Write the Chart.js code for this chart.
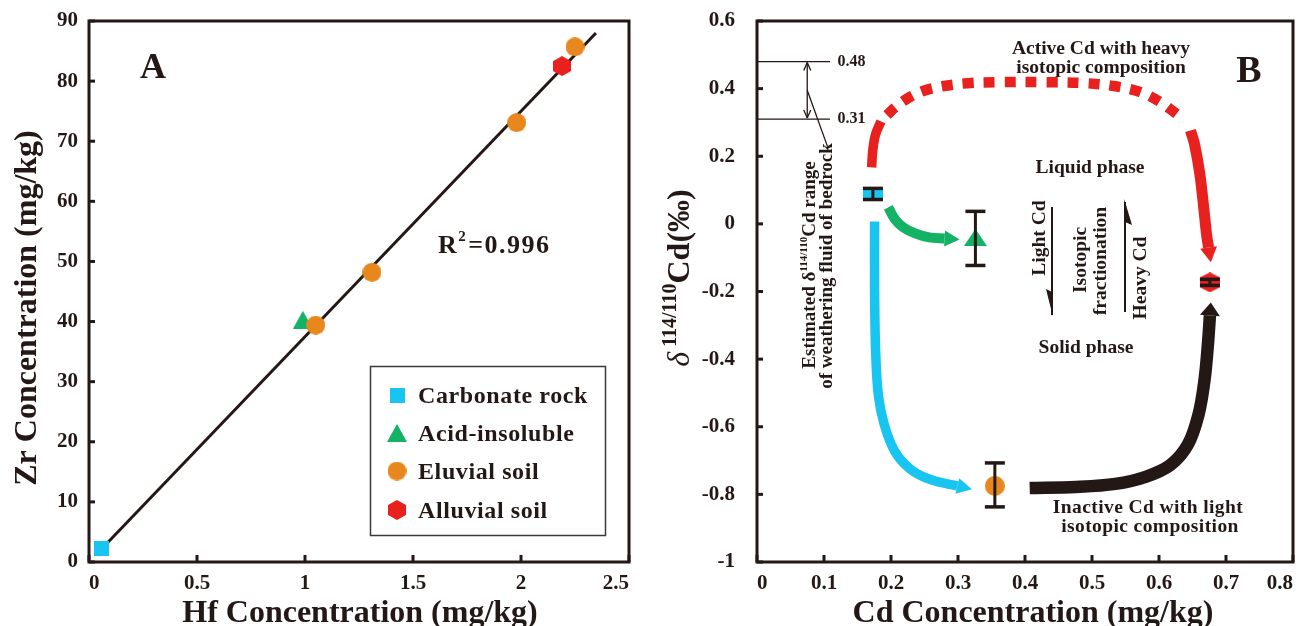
<!DOCTYPE html>
<html>
<head>
<meta charset="utf-8">
<script src="https://cdn.jsdelivr.net/npm/chart.js@4.4.1/dist/chart.umd.min.js"></script>
<style>
  body { margin: 0; background: #fff; }
  canvas { position: absolute; top: 0; }
  #panelA { left: 0; }
  #panelB { left: 650px; }
</style>
</head>
<body>
<canvas id="panelA" width="650" height="626"></canvas>
<canvas id="panelB" width="654" height="626"></canvas>
<script>
// ---- Panel A: Zr vs Hf ----
const hfCarbonate = [0.06];
const zrCarbonate = [2.2];
const hfAcid = [0.99];
const zrAcid = [40.3];
const hfEluvial = [1.05, 1.31, 1.98, 2.25];
const zrEluvial = [39.4, 48.2, 73.1, 85.7];
const hfAlluvial = [2.19];
const zrAlluvial = [82.5];
const fitHf = [0.088, 2.347];
const fitZr = [3.3, 88.0];
const hfTicks = [0, 0.5, 1, 1.5, 2, 2.5];
const hfTickLabels = ['0', '0.5', '1', '1.5', '2', '2.5'];
const zrTicks = [0, 10, 20, 30, 40, 50, 60, 70, 80, 90];

// ---- Panel B: delta114/110Cd vs Cd ----
const cdConc = [0.173, 0.326, 0.355, 0.676];
const cdDelta = [0.088, -0.040, -0.775, -0.173];
const cdDeltaLow = [0.072, -0.123, -0.837, -0.182];
const cdDeltaHigh = [0.105, 0.037, -0.707, -0.164];
const bedrockRange = [0.31, 0.48];
const cdTicks = [0, 0.1, 0.2, 0.3, 0.4, 0.5, 0.6, 0.7, 0.8];
const cdTickLabels = ['0', '0.1', '0.2', '0.3', '0.4', '0.5', '0.6', '0.7', '0.8'];
const deltaTicks = [-1, -0.8, -0.6, -0.4, -0.2, 0, 0.2, 0.4, 0.6];
const deltaTickLabels = ['-1', '-0.8', '-0.6', '-0.4', '-0.2', '0', '0.2', '0.4', '0.6'];

// flow arrows (Cd concentration, delta) along each curve
const redPathStart = [[0.171, 0.167], [0.173, 0.221], [0.177, 0.265], [0.185, 0.303]];
const redPathDashed = [[0.194, 0.322], [0.206, 0.344], [0.223, 0.369], [0.248, 0.393], [0.277, 0.407],
  [0.314, 0.416], [0.358, 0.419], [0.432, 0.419], [0.491, 0.416], [0.535, 0.407], [0.572, 0.390],
  [0.602, 0.360], [0.625, 0.327], [0.636, 0.310]];
const redPathEnd = [[0.647, 0.276], [0.653, 0.236], [0.661, 0.147], [0.667, 0.043], [0.671, -0.031], [0.674, -0.070]];
const greenPath = [[0.196, 0.049], [0.205, 0.016], [0.218, -0.010], [0.236, -0.028], [0.257, -0.040], [0.280, -0.043]];
const cyanPath = [[0.1755, 0.007], [0.1755, -0.194], [0.177, -0.372], [0.181, -0.505], [0.190, -0.594],
  [0.206, -0.674], [0.230, -0.727], [0.260, -0.757], [0.299, -0.775]];
const blackPath = [[0.407, -0.781], [0.476, -0.778], [0.535, -0.769], [0.580, -0.748], [0.617, -0.713],
  [0.643, -0.653], [0.659, -0.564], [0.668, -0.461], [0.673, -0.357], [0.676, -0.271]];

const ink = '#231815';
const cyan = '#17C5F0';
const green = '#13B264';
const orange = '#E8871E';
const red = '#E8201E';
const serif = '"Liberation Serif", "Times New Roman", serif';

function zip(xs, ys) { return xs.map((x, i) => ({ x: x, y: ys[i] })); }
function pairs(list) { return list.map(p => ({ x: p[0], y: p[1] })); }
function font(size, weight, style) { return (style || 'normal') + ' ' + (weight || 'bold') + ' ' + size + 'px ' + serif; }

function makeMarker(shape, color, w, h) {
  const c = document.createElement('canvas');
  c.width = w; c.height = h;
  const g = c.getContext('2d');
  g.fillStyle = color;
  g.beginPath();
  if (shape === 'rect') g.rect(0, 0, w, h);
  else if (shape === 'circle') g.arc(w / 2, h / 2, Math.min(w, h) / 2, 0, Math.PI * 2);
  else if (shape === 'triangle') { g.moveTo(w / 2, 0); g.lineTo(w, h); g.lineTo(0, h); }
  else { g.moveTo(w / 2, 0); g.lineTo(w, h / 4); g.lineTo(w, 3 * h / 4); g.lineTo(w / 2, h); g.lineTo(0, 3 * h / 4); g.lineTo(0, h / 4); }
  g.closePath();
  g.fill();
  return c;
}

const markA = {
  carbonate: makeMarker('rect', cyan, 15, 15),
  acid: makeMarker('triangle', green, 20, 18),
  eluvial: makeMarker('circle', orange, 19, 19),
  alluvial: makeMarker('hexagon', red, 18, 20)
};
const markB = [
  makeMarker('rect', cyan, 20, 12),
  makeMarker('triangle', green, 23, 17),
  makeMarker('circle', orange, 20, 20),
  makeMarker('hexagon', red, 20, 20)
];

function text(ctx, str, x, y, size, opts) {
  opts = opts || {};
  ctx.save();
  ctx.font = font(size, opts.weight, opts.style);
  ctx.fillStyle = ink;
  ctx.textAlign = opts.align || 'center';
  ctx.textBaseline = opts.baseline || 'alphabetic';
  if (opts.spacing) ctx.letterSpacing = opts.spacing + 'px';
  ctx.translate(x, y);
  if (opts.rotate) ctx.rotate(opts.rotate);
  ctx.fillText(str, 0, 0);
  ctx.restore();
}

function richText(ctx, parts, x, y, rotate) {
  ctx.save();
  ctx.translate(x, y);
  if (rotate) ctx.rotate(rotate);
  ctx.fillStyle = ink;
  ctx.textAlign = 'left';
  ctx.textBaseline = 'alphabetic';
  let total = 0;
  parts.forEach(p => { ctx.font = font(p.size, p.weight, p.style); p.w = ctx.measureText(p.t).width; total += p.w; });
  let cx = -total / 2;
  parts.forEach(p => { ctx.font = font(p.size, p.weight, p.style); ctx.fillText(p.t, cx, p.dy || 0); cx += p.w; });
  ctx.restore();
}

function line(ctx, x1, y1, x2, y2, w) {
  ctx.beginPath();
  ctx.moveTo(x1, y1);
  ctx.lineTo(x2, y2);
  ctx.lineWidth = w;
  ctx.strokeStyle = ink;
  ctx.stroke();
}

// frame box plus inward tick marks
const frame = {
  id: 'frame',
  afterDraw(chart) {
    const ctx = chart.ctx;
    const a = chart.chartArea;
    const sx = chart.scales.x, sy = chart.scales.y;
    ctx.save();
    sx.ticks.forEach(t => { const px = sx.getPixelForValue(t.value); line(ctx, px, a.bottom, px, a.bottom - 7, 3); });
    sy.ticks.forEach(t => { const py = sy.getPixelForValue(t.value); line(ctx, a.left, py, a.left + 6, py, 3); });
    ctx.lineWidth = 3;
    ctx.strokeStyle = ink;
    ctx.strokeRect(a.left, a.top, a.right - a.left, a.bottom - a.top);
    ctx.restore();
  }
};

const axisFont = { family: serif, size: 21, weight: 'bold' };

function noPadding(s) { s.paddingTop = 0; s.paddingBottom = 0; s.paddingLeft = 0; s.paddingRight = 0; }

function axes(xMin, xMax, xTicks, xLabels, yMin, yMax, yTicks, yLabels, yWidth, yPad) {
  return {
    x: {
      type: 'linear', min: xMin, max: xMax,
      afterFit: s => { s.height = 64; noPadding(s); },
      afterBuildTicks: s => { s.ticks = xTicks.map(v => ({ value: v })); },
      grid: { display: false, drawTicks: false },
      border: { display: false },
      ticks: { padding: 9, align: 'inner', color: ink, font: axisFont, maxRotation: 0, autoSkip: false, callback: (v, i) => xLabels[i] }
    },
    y: {
      type: 'linear', min: yMin, max: yMax,
      afterFit: s => { s.width = yWidth; noPadding(s); },
      afterBuildTicks: s => { s.ticks = yTicks.map(v => ({ value: v })); },
      grid: { display: false, drawTicks: false },
      border: { display: false },
      ticks: { padding: yPad, color: ink, font: axisFont, autoSkip: false, callback: (v, i) => yLabels[i] }
    }
  };
}

// ---- Panel A ----
const panelAText = {
  id: 'panelAText',
  afterDraw(chart) {
    const ctx = chart.ctx;
    text(ctx, 'A', 153, 78, 36);
    ctx.save();
    ctx.font = font(26);
    ctx.fillStyle = ink;
    ctx.letterSpacing = '1.5px';
    ctx.fillText('R', 438, 253);
    const rw = ctx.measureText('R').width;
    ctx.font = font(15);
    ctx.fillText('2', 438 + rw, 241);
    const sw = ctx.measureText('2').width;
    ctx.font = font(26);
    ctx.fillText('=0.996', 438 + rw + sw + 1, 253);
    ctx.restore();

    // legend
    ctx.save();
    ctx.lineWidth = 1.5;
    ctx.strokeStyle = '#3a3a3a';
    ctx.strokeRect(370.5, 366.5, 235, 169);
    ctx.restore();
    const entries = [
      ['Carbonate rock', markA.carbonate, 395],
      ['Acid-insoluble', markA.acid, 433],
      ['Eluvial soil', markA.eluvial, 471],
      ['Alluvial soil', markA.alluvial, 510]
    ];
    entries.forEach(e => {
      ctx.drawImage(e[1], 397 - e[1].width / 2, e[2] - e[1].height / 2);
      text(ctx, e[0], 418, e[2] + 8, 24, { align: 'left', spacing: 0.6 });
    });

    text(ctx, 'Hf Concentration (mg/kg)', 360, 622, 32);
    text(ctx, 'Zr Concentration (mg/kg)', 36, 308, 32, { rotate: -Math.PI / 2 });
  }
};

new Chart(document.getElementById('panelA'), {
  type: 'scatter',
  data: {
    datasets: [
      { label: 'Eluvial soil', data: zip(hfEluvial, zrEluvial), pointStyle: markA.eluvial, pointRadius: 10, order: 0 },
      { label: 'Alluvial soil', data: zip(hfAlluvial, zrAlluvial), pointStyle: markA.alluvial, pointRadius: 10, order: 1 },
      { label: 'Acid-insoluble', data: zip(hfAcid, zrAcid), pointStyle: markA.acid, pointRadius: 10, order: 2 },
      { label: 'Carbonate rock', data: zip(hfCarbonate, zrCarbonate), pointStyle: markA.carbonate, pointRadius: 10, order: 3 },
      { label: 'Fit', data: zip(fitHf, fitZr), showLine: true, borderColor: ink, borderWidth: 3, pointRadius: 0, order: 4 }
    ]
  },
  options: {
    responsive: false,
    animation: false,
    events: [],
    layout: { padding: { top: 21, right: 21, left: 0, bottom: 0 } },
    plugins: { legend: { display: false }, tooltip: { enabled: false } },
    scales: axes(0, 2.5, hfTicks, hfTickLabels, 0, 90, zrTicks, zrTicks.map(String), 89, 11)
  },
  plugins: [frame, panelAText]
});

// ---- Panel B ----
const OX = 650; // page offset of this canvas

const panelBDecor = {
  id: 'panelBDecor',
  afterDatasetsDraw(chart) {
    const ctx = chart.ctx;
    const sx = chart.scales.x, sy = chart.scales.y;
    const a = chart.chartArea;
    ctx.save();
    // arrow heads at the end of each flow curve
    chart.data.datasets.forEach((ds, i) => {
      if (!ds.head) return;
      const pts = chart.getDatasetMeta(i).data;
      const p = pts[pts.length - 2], q = pts[pts.length - 1];
      const ang = Math.atan2(q.y - p.y, q.x - p.x);
      ctx.save();
      ctx.translate(q.x, q.y);
      ctx.rotate(ang);
      ctx.beginPath();
      ctx.moveTo(ds.head[0], 0);
      ctx.lineTo(0, -ds.head[1] / 2);
      ctx.lineTo(0, ds.head[1] / 2);
      ctx.closePath();
      ctx.fillStyle = ds.borderColor;
      ctx.fill();
      ctx.restore();
    });
    // error bars
    cdConc.forEach((c, i) => {
      const px = sx.getPixelForValue(c);
      const lo = sy.getPixelForValue(cdDeltaLow[i]);
      const hi = sy.getPixelForValue(cdDeltaHigh[i]);
      line(ctx, px, lo, px, hi, 3);
      line(ctx, px - 10, lo, px + 10, lo, 3.5);
      line(ctx, px - 10, hi, px + 10, hi, 3.5);
    });
    // bedrock fluid range
    const xEnd = sx.getPixelForValue(0.109);
    const xArr = sx.getPixelForValue(0.075);
    const yTop = sy.getPixelForValue(bedrockRange[1]);
    const yBot = sy.getPixelForValue(bedrockRange[0]);
    line(ctx, a.left, yTop, xEnd, yTop, 1.3);
    line(ctx, a.left, yBot, xEnd, yBot, 1.3);
    line(ctx, xArr, yTop + 1, xArr, yBot - 1, 1.3);
    line(ctx, xArr - 3.5, yTop + 9, xArr, yTop + 1, 1.3);
    line(ctx, xArr + 3.5, yTop + 9, xArr, yTop + 1, 1.3);
    line(ctx, xArr - 3.5, yBot - 9, xArr, yBot - 1, 1.3);
    line(ctx, xArr + 3.5, yBot - 9, xArr, yBot - 1, 1.3);
    line(ctx, xArr, (yTop + yBot) / 2, sx.getPixelForValue(0.105), sy.getPixelForValue(0.230), 1.3);
    ctx.font = font(16);
    ctx.fillStyle = ink;
    ctx.textAlign = 'left';
    ctx.textBaseline = 'middle';
    ctx.fillText(bedrockRange[1].toFixed(2), sx.getPixelForValue(0.12), yTop);
    ctx.fillText(bedrockRange[0].toFixed(2), sx.getPixelForValue(0.12), yBot);

    // isotopic fractionation harpoons
    line(ctx, 1052 - OX, 207, 1052 - OX, 315, 2);
    ctx.beginPath();
    ctx.moveTo(1052.8 - OX, 316); ctx.lineTo(1046 - OX, 289); ctx.lineTo(1052 - OX, 292); ctx.closePath(); ctx.fill();
    line(ctx, 1125 - OX, 312, 1125 - OX, 202, 2);
    ctx.beginPath();
    ctx.moveTo(1124.2 - OX, 199); ctx.lineTo(1132 - OX, 225); ctx.lineTo(1125 - OX, 222); ctx.closePath(); ctx.fill();
    ctx.restore();
  },
  afterDraw(chart) {
    const ctx = chart.ctx;
    const up = -Math.PI / 2;
    text(ctx, 'B', 1249 - OX, 82, 38);
    text(ctx, 'Active Cd with heavy', 1101 - OX, 54, 19.5);
    text(ctx, 'isotopic composition', 1101 - OX, 73, 19.5);
    text(ctx, 'Liquid phase', 1090 - OX, 173, 19.5);
    text(ctx, 'Solid phase', 1086 - OX, 353, 19.5);
    text(ctx, 'Inactive Cd with light', 1148 - OX, 513, 19.5, { spacing: 0.4 });
    text(ctx, 'isotopic composition', 1150 - OX, 532, 19.5, { spacing: 0.4 });
    text(ctx, 'Light Cd', 1045 - OX, 238, 19.5, { rotate: up });
    text(ctx, 'Isotopic', 1086 - OX, 260, 19.5, { rotate: up });
    text(ctx, 'fractionation', 1106 - OX, 261, 19.5, { rotate: up });
    text(ctx, 'Heavy Cd', 1146 - OX, 278, 19.5, { rotate: up });
    richText(ctx, [
      { t: 'Estimated δ', size: 19 },
      { t: '114/110', size: 11, dy: -8 },
      { t: 'Cd range', size: 19 }
    ], 815 - OX, 265, up);
    text(ctx, 'of weathering fluid of bedrock', 832 - OX, 266, 19, { rotate: up });

    text(ctx, 'Cd Concentration (mg/kg)', 1033 - OX, 622, 32);
    richText(ctx, [
      { t: 'δ', size: 32, weight: 'normal', style: 'italic' },
      { t: ' 114/110', size: 20, dy: -13 },
      { t: 'Cd(‰)', size: 32 }
    ], 689 - OX, 278, up);
  }
};

function curve(path, color, width, extra) {
  return Object.assign({
    data: pairs(path), showLine: true, borderColor: color, borderWidth: width,
    borderCapStyle: 'butt', borderJoinStyle: 'round', tension: 0.35, pointRadius: 0, order: 5
  }, extra || {});
}

new Chart(document.getElementById('panelB'), {
  type: 'scatter',
  data: {
    datasets: [
      { label: 'Samples', data: zip(cdConc, cdDelta), pointStyle: markB, pointRadius: 10, order: 0 },
      curve(redPathStart, red, 9.5),
      curve(redPathDashed, red, 10.5, { borderDash: [11, 10] }),
      curve(redPathEnd, red, 11, { head: [15, 17] }),
      curve(greenPath, green, 10, { head: [15, 16] }),
      curve(cyanPath, cyan, 9.5, { head: [15, 16] }),
      curve(blackPath, ink, 12.5, { head: [13, 20] })
    ]
  },
  options: {
    responsive: false,
    animation: false,
    events: [],
    layout: { padding: { top: 21, right: 5, left: 0, bottom: 0 } },
    plugins: { legend: { display: false }, tooltip: { enabled: false } },
    scales: axes(0, 0.8, cdTicks, cdTickLabels, -1, 0.6, deltaTicks, deltaTickLabels, 107, 22)
  },
  plugins: [frame, panelBDecor]
});
</script>
</body>
</html>
